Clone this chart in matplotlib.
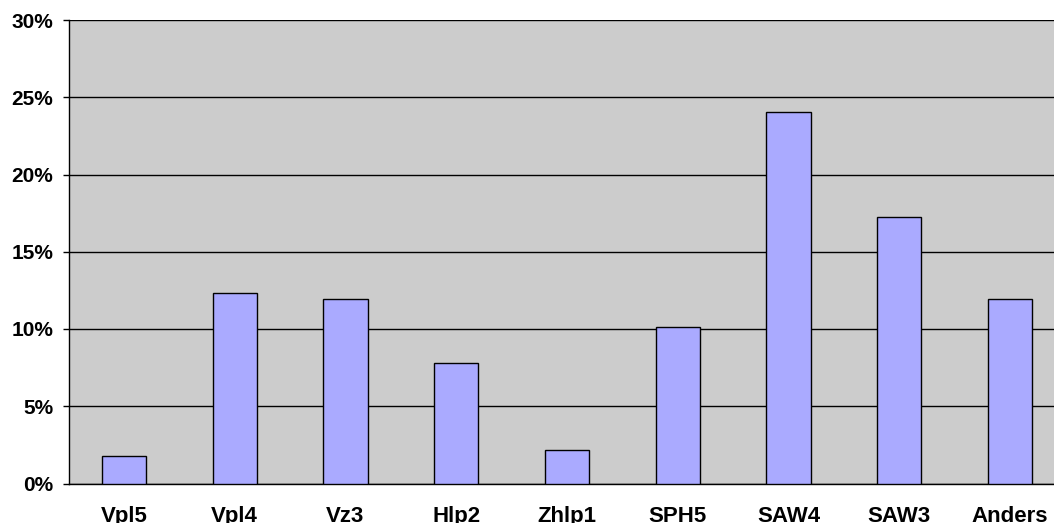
import matplotlib.pyplot as plt
from matplotlib.ticker import FuncFormatter

categories = ["Vpl5", "Vpl4", "Vz3", "Hlp2", "Zhlp1", "SPH5", "SAW4", "SAW3", "Anders"]
values = [1.75, 12.33, 11.94, 7.83, 2.14, 10.16, 24.03, 17.22, 11.94]
y_ticks = [0, 5, 10, 15, 20, 25, 30]

plt.rcParams['font.family'] = ['Liberation Sans', 'DejaVu Sans']

fig = plt.figure(figsize=(10.54, 5.23), dpi=100)
# plot area runs past the right edge of the picture, as in the original
ax = fig.add_axes([68.5 / 1054, 1 - 483.5 / 523, 997 / 1054, 463.5 / 523])
ax.set_facecolor("#cccccc")

x = range(len(categories))
ax.bar(x, values, width=0.4, color="#aaaaff", edgecolor="black", linewidth=1, zorder=3)

ax.set_xlim(-0.5, len(categories) - 0.5)
ax.set_ylim(0, 30)
ax.set_yticks(y_ticks)
ax.yaxis.set_major_formatter(FuncFormatter(lambda v, p: f"{v:.0f}%"))
ax.grid(axis="y", color="black", linewidth=1, zorder=1)

ax.set_xticks(list(x))
ax.set_xticklabels(categories)
ax.tick_params(axis="x", length=0, pad=16, labelsize=16)
ax.tick_params(axis="y", length=4.3, width=1, pad=6.5, labelsize=15, direction="out")
for lbl in ax.get_xticklabels() + ax.get_yticklabels():
    lbl.set_fontweight("bold")

for side in ["top", "right"]:
    ax.spines[side].set_visible(False)
for side in ["left", "bottom"]:
    ax.spines[side].set_color("black")
    ax.spines[side].set_linewidth(1)

fig.savefig("out.png", dpi=100, facecolor="white")
